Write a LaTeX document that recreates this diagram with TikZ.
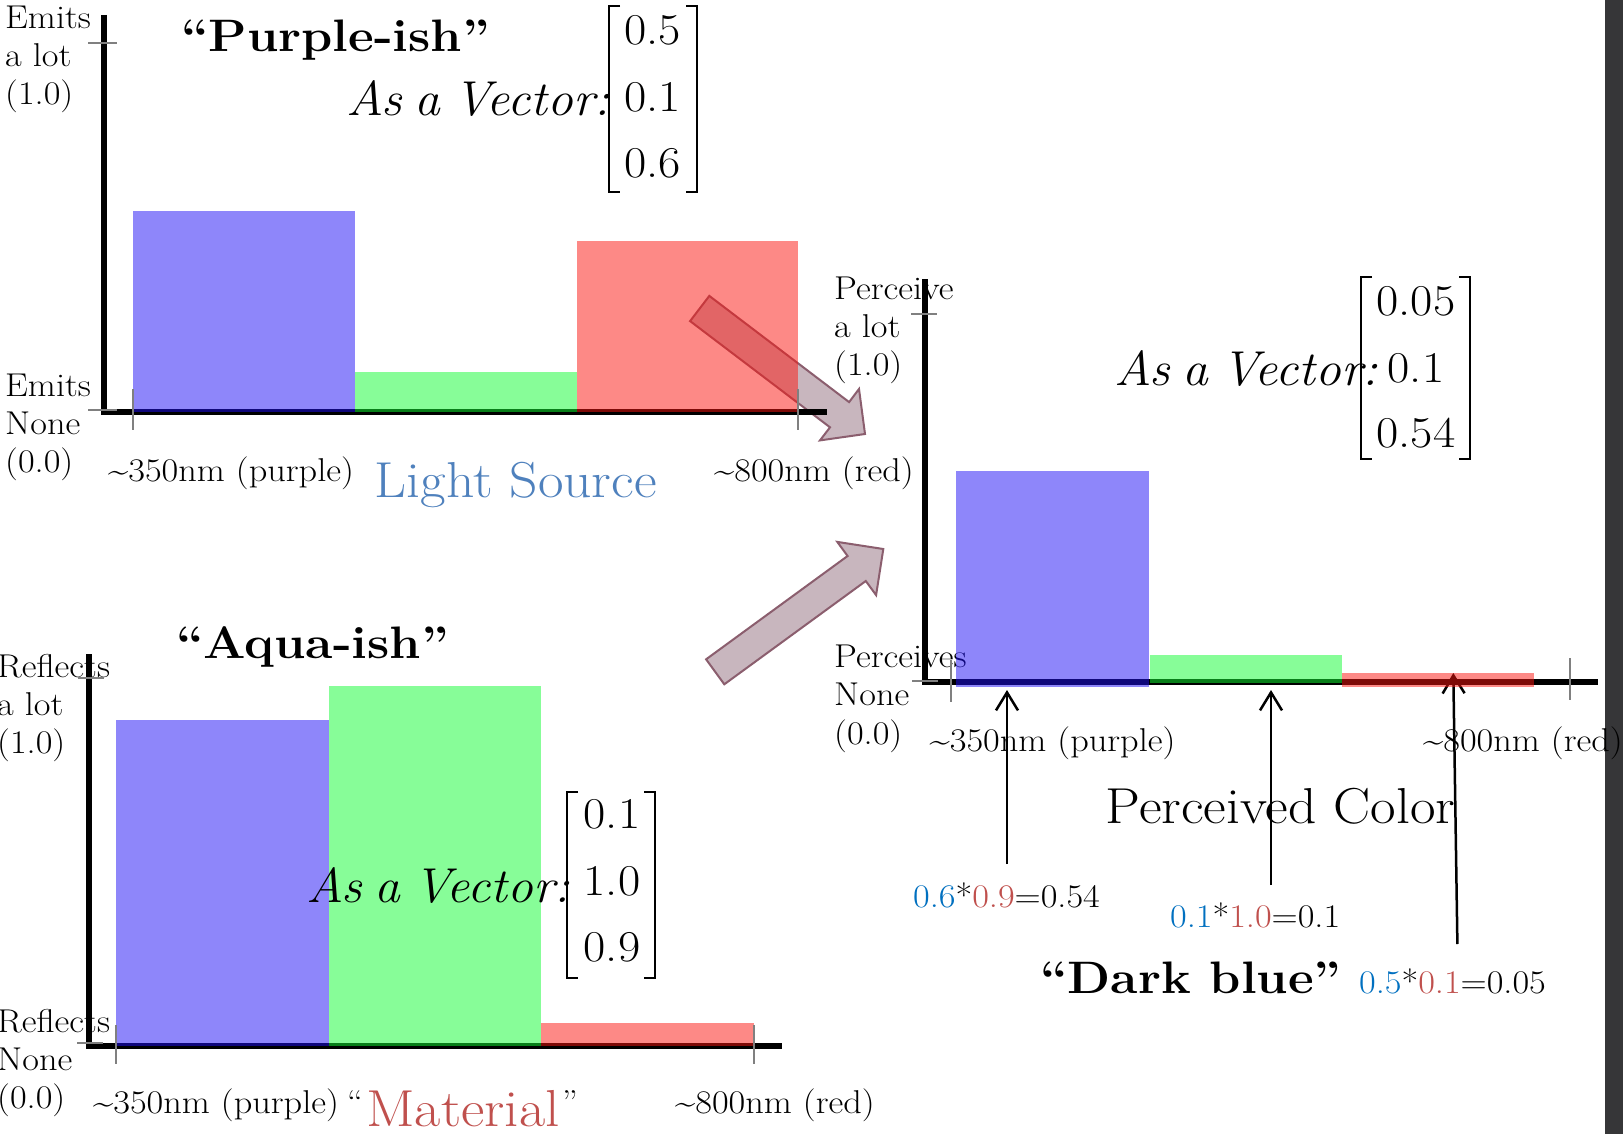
\documentclass[tikz,border=0pt]{standalone}
\usepackage{fontspec}
\usepackage{graphicx}
\usetikzlibrary{arrows.meta}
\definecolor{lsblue}{RGB}{79,129,189}
\definecolor{matred}{RGB}{192,80,77}
\definecolor{fblue}{RGB}{0,112,192}
\definecolor{fred}{RGB}{192,80,77}
\definecolor{barblue}{RGB}{30,15,246}
\definecolor{bargreen}{RGB}{17,253,51}
\definecolor{barred}{RGB}{253,21,15}
\definecolor{arrfill}{RGB}{200,182,190}
\definecolor{arrdraw}{RGB}{139,94,110}
\definecolor{bandgray}{RGB}{54,54,56}
\definecolor{tickgray}{RGB}{128,128,128}
\newcommand\hs[1]{\scalebox{1.1}[1]{#1}}
\newcommand\hv[1]{\scalebox{1.05}[1]{#1}}
\newcommand\vecspace{\spaceskip=0.25em plus 0.1em minus 0.05em\relax}
\tikzset{
  txt/.style={inner sep=0pt, font=\fontsize{33}{38}\selectfont},
  bigtxt/.style={inner sep=0pt, font=\fontsize{50.5}{56}\selectfont},
  mattxt/.style={inner sep=0pt, font=\fontsize{52}{58}\selectfont},
  ttl/.style={inner sep=0pt, font=\fontsize{45.5}{52}\selectfont\bfseries},
  vectxt/.style={inner sep=0pt, font=\fontsize{49}{54}\selectfont\itshape\vecspace},
  ent/.style={inner sep=0pt, font=\fontsize{44}{50}\selectfont},
  frm/.style={inner sep=0pt, font=\fontsize{33}{38}\selectfont},
  axisline/.style={line width=6pt},
  tickline/.style={draw=tickgray, line width=2pt},
  bracketline/.style={line width=2pt},
  blockarrow/.style={fill=arrfill, draw=arrdraw, line width=2pt, line join=miter},
  uparrow/.style={line width=2.5pt, -{Straight Barb[length=18pt,width=22pt]}},
  bbar/.style={fill=barblue, fill opacity=0.5},
  gbar/.style={fill=bargreen, fill opacity=0.5},
  rbar/.style={fill=barred, fill opacity=0.5}
}
\begin{document}
\begin{tikzpicture}[x=1pt,y=-1pt]
\useasboundingbox (0,0) rectangle (1623,1134);
\fill[white] (0,0) rectangle (1623,1134);
\fill[bandgray] (1605,0) rectangle (1623,1134);

% ---------------- texts: top-left chart ----------------
\node[txt, anchor=base west] (tlA) at (5,29) {\hs{Emits}};
\node[txt, anchor=base west] (tlB) at (5,67) {\hs{a lot}};
\node[txt, anchor=base west] (tlC) at (5,105) {\hs{(1.0)}};
\node[txt, anchor=base west] (tlD) at (5,396) {\hs{Emits}};
\node[txt, anchor=base west] (tlE) at (5,434) {\hs{None}};
\node[txt, anchor=base west] (tlF) at (5,472) {\hs{(0.0)}};
\node[txt, anchor=base west] (tlX1) at (108,481) {\hs{\textasciitilde350nm (purple)}};
\node[txt, anchor=base west] (tlX2) at (714,481) {\hs{\textasciitilde800nm (red)}};
\node[ttl, anchor=base west] (tlT) at (181,52) {\hs{“Purple-ish”}};
\node[vectxt, anchor=base east] (tlV) at (610,116) {\hv{As a Vector:}};
\node[ent, anchor=base] (tlE1) at (652.5,45) {\hs{0.5}};
\node[ent, anchor=base] (tlE2) at (652.5,112) {\hs{0.1}};
\node[ent, anchor=base] (tlE3) at (652.5,178) {\hs{0.6}};
\node[bigtxt, anchor=base west, text=lsblue] (tlS) at (374.7,497) {\hs{Light Source}};

% ---------------- texts: right chart ----------------
\node[txt, anchor=base west] (rA) at (834,299) {\hs{Perceive}};
\node[txt, anchor=base west] (rB) at (834,337) {\hs{a lot}};
\node[txt, anchor=base west] (rC) at (834,375) {\hs{(1.0)}};
\node[txt, anchor=base west] (rD) at (834,667) {\hs{Perceives}};
\node[txt, anchor=base west] (rE) at (834,705) {\hs{None}};
\node[txt, anchor=base west] (rF) at (834,744) {\hs{(0.0)}};
\node[txt, anchor=base west] (rX1) at (929.5,751.5) {\hs{\textasciitilde350nm (purple)}};
\node[txt, anchor=base west] (rX2) at (1423,751.5) {\hs{\textasciitilde800nm (red)}};
\node[vectxt, anchor=base east] (rV) at (1378,385) {\hv{As a Vector:}};
\node[ent, anchor=base] (rE1) at (1416,315) {\hs{0.05}};
\node[ent, anchor=base] (rE2) at (1416,382) {\hs{0.1}};
\node[ent, anchor=base] (rE3) at (1416,447) {\hs{0.54}};
\node[bigtxt, anchor=base west] (rP) at (1105.5,823) {\hs{Perceived Color}};
\node[ttl, anchor=base west] (rT) at (1040,993) {\hs{“Dark blue”}};
\node[frm, anchor=base west] (f1) at (913,907) {\hs{\textcolor{fblue}{0.6}*\textcolor{fred}{0.9}=0.54}};
\node[frm, anchor=base west] (f2) at (1170,927) {\hs{\textcolor{fblue}{0.1}*\textcolor{fred}{1.0}=0.1}};
\node[frm, anchor=base west] (f3) at (1359,993) {\hs{\textcolor{fblue}{0.5}*\textcolor{fred}{0.1}=0.05}};

% ---------------- texts: bottom-left chart ----------------
\node[txt, anchor=base west] (bA) at (-3,677) {\hs{Reflects}};
\node[txt, anchor=base west] (bB) at (-3,715) {\hs{a lot}};
\node[txt, anchor=base west] (bC) at (-3,753) {\hs{(1.0)}};
\node[txt, anchor=base west] (bD) at (-3,1032) {\hs{Reflects}};
\node[txt, anchor=base west] (bE) at (-3,1070) {\hs{None}};
\node[txt, anchor=base west] (bF) at (-3,1108.6) {\hs{(0.0)}};
\node[txt, anchor=base west] (bX1) at (93,1113) {\hs{\textasciitilde350nm (purple)}};
\node[txt, anchor=base west] (bX2) at (675,1113) {\hs{\textasciitilde800nm (red)}};
\node[txt, anchor=base west] (bQ1) at (347,1113) {\hs{“}};
\node[mattxt, anchor=base west, text=matred] (bM) at (366,1126) {\hs{Material}};
\node[txt, anchor=base west] (bQ2) at (562,1113) {\hs{”}};
\node[ttl, anchor=base west] (bT) at (176,658) {\hs{“Aqua-ish”}};
\node[ent, anchor=base] (bE1) at (612,828) {\hs{0.1}};
\node[ent, anchor=base] (bE2) at (612,895) {\hs{1.0}};
\node[ent, anchor=base] (bE3) at (612,961.6) {\hs{0.9}};

% ---------------- matrix brackets ----------------
\draw[bracketline] (620,6) -- (609.3,6) -- (609.3,192) -- (620,192);
\draw[bracketline] (686,6) -- (696.7,6) -- (696.7,192) -- (686,192);
\draw[bracketline] (1372,277.4) -- (1361,277.4) -- (1361,458.5) -- (1372,458.5);
\draw[bracketline] (1459,277.4) -- (1470,277.4) -- (1470,458.5) -- (1459,458.5);
\draw[bracketline] (578,792) -- (567,792) -- (567,978) -- (578,978);
\draw[bracketline] (644,792) -- (655,792) -- (655,978) -- (644,978);

% ---------------- block arrows ----------------
\draw[blockarrow] (709.3,295.9) -- (849.1,402.1) -- (859.0,389.0) -- (865.0,434.0)
  -- (820.0,440.4) -- (830.0,427.3) -- (690.1,321.1) -- cycle;
\draw[blockarrow] (706.1,659.3) -- (847.6,556.0) -- (837.3,541.9) -- (883.3,549)
  -- (876.1,595.1) -- (865.8,581.0) -- (724.3,684.3) -- cycle;

% ---------------- up arrows ----------------
\coordinate (u1s) at (1007,864);   \coordinate (u1e) at (1007,690);
\coordinate (u2s) at (1271,885);   \coordinate (u2e) at (1271,690);
\coordinate (u3s) at (1457.4,944); \coordinate (u3e) at (1453.3,673);
\draw[uparrow] (u1s) -- (u1e);
\draw[uparrow] (u2s) -- (u2e);
\draw[uparrow] (u3s) -- (u3e);

% ---------------- axes ----------------
\draw[axisline] (104,15) -- (104,414.5);
\draw[axisline] (101,411.5) -- (827,411.5);
\draw[axisline] (924.5,279.5) -- (924.5,685);
\draw[axisline] (921.5,682) -- (1598,682);
\draw[axisline] (89,654) -- (89,1048.5);
\draw[axisline] (86,1045.5) -- (781.5,1045.5);

% ---------------- bars ----------------
\fill[bbar] (132.5,211) rectangle (355,411.5);
\fill[gbar] (355,371.5) rectangle (576.5,411.5);
\fill[rbar] (576.5,241) rectangle (798,411.5);

\fill[bbar] (956,471) rectangle (1148.5,686.7);
\fill[gbar] (1149.5,655) rectangle (1341.7,683.3);
\fill[rbar] (1341.7,673.3) rectangle (1534,686.7);

\fill[bbar] (116,720.4) rectangle (329,1045.5);
\fill[gbar] (329,686) rectangle (541,1045.5);
\fill[rbar] (541,1022.7) rectangle (753.5,1045.5);

% text lying on top of the bars
\node[vectxt, anchor=base east] (bV) at (570,902) {\hv{As a Vector:}};

% ---------------- ticks ----------------
\draw[tickline] (88,43) -- (117,43);
\draw[tickline] (88,410) -- (117,410);
\draw[tickline] (132.5,389) -- (132.5,430);
\draw[tickline] (798,389) -- (798,430);

\draw[tickline] (911,313.6) -- (937,313.6);
\draw[tickline] (912,680.7) -- (938,680.7);
\draw[tickline] (950.7,660) -- (950.7,702);
\draw[tickline] (1570,658) -- (1570,700);

\draw[tickline] (77.6,678) -- (103.5,678);
\draw[tickline] (77,1043) -- (103,1043);
\draw[tickline] (116,1025) -- (116,1064);
\draw[tickline] (753.5,1025) -- (753.5,1064);
\end{tikzpicture}
\end{document}
